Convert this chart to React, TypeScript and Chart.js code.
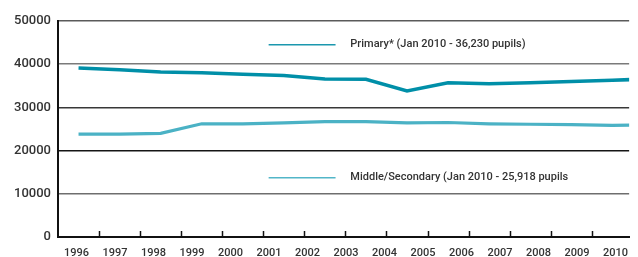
import React, { useEffect, useRef } from "react";
import { Chart, registerables } from "chart.js";

Chart.register(...registerables);

const years = ["1996", "1997", "1998", "1999", "2000", "2001", "2002", "2003", "2004", "2005", "2006", "2007", "2008", "2009", "2010"];
const primary = [39100, 38700, 38200, 38000, 37700, 37400, 36600, 36500, 33800, 35700, 35500, 35700, 36000, 36300, 36600];
const middle = [23800, 23800, 24000, 26200, 26200, 26400, 26700, 26700, 26400, 26500, 26200, 26100, 26000, 25850, 25918];
const primaryLabel = "Primary* (Jan 2010 - 36,230 pupils)";
const middleLabel = "Middle/Secondary (Jan 2010 - 25,918 pupils";
const yTicks = [0, 10000, 20000, 30000, 40000, 50000];

const PRIMARY_COLOR = "#008fa8";
const MIDDLE_COLOR = "#4bb2c5";
const FONT = "Roboto, 'DejaVu Sans', sans-serif";

// layout constants (styles, not data)
const X_MIN = -0.5;
const X_MAX = 13.41;
const LABEL_STEP = 0.9377;
const LABEL_OFFSET = -0.05;

const gridColors: Record<number, string> = {
  0: "#111111",
  10000: "#6e6e6e",
  20000: "#151515",
  30000: "#383838",
  40000: "#7a7a7a",
  50000: "#5a5a5a",
};

const overlayPlugin = {
  id: "overlay",
  afterDraw(chart: any) {
    const { ctx, chartArea, scales } = chart;
    const x = scales.x;
    const y = scales.y;
    ctx.save();
    // inward tick marks on the x axis, between categories
    ctx.strokeStyle = "#111";
    ctx.lineWidth = 1.5;
    for (let k = 0; k < years.length; k++) {
      const px = Math.round(x.getPixelForValue(k + 0.5)) + 0.5;
      if (px > chartArea.right) break;
      ctx.beginPath();
      ctx.moveTo(px, chartArea.bottom);
      ctx.lineTo(px, chartArea.bottom - 6);
      ctx.stroke();
    }
    // in-chart legend
    const items = [
      { label: primaryLabel, color: "#1b97ae", yv: 44500 },
      { label: middleLabel, color: "#52b6c8", yv: 13700 },
    ];
    ctx.font = `500 11px ${FONT}`;
    ctx.textBaseline = "middle";
    ctx.textAlign = "left";
    for (const it of items) {
      const py = y.getPixelForValue(it.yv);
      const x0 = x.getPixelForValue(4.63);
      const x1 = x.getPixelForValue(6.26);
      ctx.strokeStyle = it.color;
      ctx.lineWidth = 1.6;
      ctx.beginPath();
      ctx.moveTo(x0, py);
      ctx.lineTo(x1, py);
      ctx.stroke();
      ctx.fillStyle = "#333333";
      ctx.fillText(it.label, x.getPixelForValue(6.62), py - 1);
    }
    ctx.restore();
  },
};

export default function App() {
  const ref = useRef<HTMLCanvasElement | null>(null);

  useEffect(() => {
    document.body.style.margin = "0";
    if (!ref.current) return;
    const chart = new Chart(ref.current, {
      type: "line",
      data: {
        datasets: [
          {
            label: primaryLabel,
            data: primary.map((v, i) => ({ x: i, y: v })),
            borderColor: PRIMARY_COLOR,
            borderWidth: 3.5,
            pointRadius: 0,
            tension: 0,
            fill: false,
          },
          {
            label: middleLabel,
            data: middle.map((v, i) => ({ x: i, y: v })),
            borderColor: MIDDLE_COLOR,
            borderWidth: 3.2,
            pointRadius: 0,
            tension: 0,
            fill: false,
          },
        ],
      },
      options: {
        animation: false,
        responsive: false,
        maintainAspectRatio: false,
        layout: { padding: { top: 21, left: 0, right: 0, bottom: 0 } },
        plugins: {
          legend: { display: false },
          tooltip: { enabled: false },
        },
        scales: {
          x: {
            type: "linear",
            min: X_MIN,
            max: X_MAX,
            afterBuildTicks(scale: any) {
              scale.ticks = years.map((_, i) => ({ value: LABEL_OFFSET + i * LABEL_STEP }));
            },
            afterFit(scale: any) {
              scale.height = 20;
            },
            ticks: {
              autoSkip: false,
              maxRotation: 0,
              minRotation: 0,
              padding: 10,
              color: "#333333",
              font: { family: FONT, size: 11, weight: "500" },
              callback: (_v: any, i: number) => years[i],
            },
            grid: { drawOnChartArea: false, drawTicks: false },
            border: { display: true, color: "#111111", width: 2 },
          },
          y: {
            min: 0,
            max: 50000,
            afterBuildTicks(scale: any) {
              scale.ticks = yTicks.map((v) => ({ value: v }));
            },
            afterFit(scale: any) {
              scale.width = 58;
            },
            ticks: {
              padding: 7,
              color: "#333333",
              font: { family: FONT, size: 13, weight: "500" },
              callback: (v: any) => String(v),
            },
            grid: {
              drawTicks: false,
              color: (c: any) => gridColors[c.tick?.value] ?? "#666",
              lineWidth: 1.5,
            },
            border: { display: true, color: "#111111", width: 2 },
          },
        },
      },
      plugins: [overlayPlugin],
    });
    return () => chart.destroy();
  }, []);

  return (
    <div style={{ width: 638, height: 257 }}>
      <canvas ref={ref} width={638} height={257} style={{ display: "block" }} />
    </div>
  );
}
